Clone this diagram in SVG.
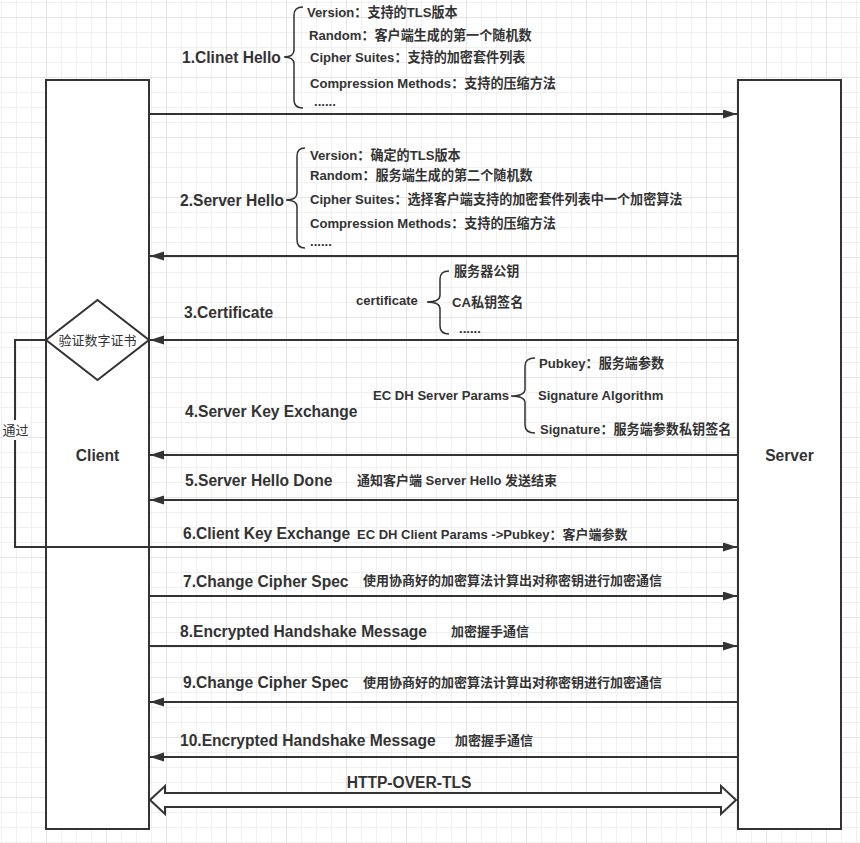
<svg xmlns="http://www.w3.org/2000/svg" width="860" height="843" viewBox="0 0 860 843">
<defs>
<pattern id="grid" x="46" y="17" width="60" height="60" patternUnits="userSpaceOnUse">
<rect x="15" y="0" width="1" height="60" fill="#f0f0f0"/>
<rect x="30" y="0" width="1" height="60" fill="#f0f0f0"/>
<rect x="45" y="0" width="1" height="60" fill="#f0f0f0"/>
<rect x="0" y="15" width="60" height="1" fill="#f0f0f0"/>
<rect x="0" y="30" width="60" height="1" fill="#f0f0f0"/>
<rect x="0" y="45" width="60" height="1" fill="#f0f0f0"/>
<rect x="0" y="0" width="1" height="60" fill="#e4e4e4"/>
<rect x="0" y="0" width="60" height="1" fill="#e4e4e4"/>
</pattern>
<marker id="ah" markerUnits="userSpaceOnUse" markerWidth="15" markerHeight="10" refX="14" refY="4.5" orient="auto">
<path d="M0,0 L14,4.5 L0,9 z" fill="#333"/>
</marker>
<style>
text{font-family:"Liberation Sans","Noto Sans CJK SC",sans-serif;fill:#333;dominant-baseline:central}
.step{font-size:15.6px;font-weight:bold}
.sub{font-size:13.1px;font-weight:bold}
.desc{font-size:13px;font-weight:bold}
.plain{font-size:13px;font-weight:normal}
.box{fill:#fff;stroke:#333;stroke-width:2}
.ln{fill:none;stroke:#333;stroke-width:2}
.arr{fill:none;stroke:#333;stroke-width:2;marker-end:url(#ah)}
.br{fill:none;stroke:#333;stroke-width:1.5}
</style>
</defs>
<rect width="860" height="843" fill="#fff"/>
<rect width="860" height="843" fill="url(#grid)"/>

<g id="client">
<rect class="box" x="46" y="80" width="103" height="749"/>
<text class="step" x="97.5" y="455" text-anchor="middle">Client</text>
</g>
<g id="server">
<rect class="box" x="738" y="80" width="103" height="749"/>
<text class="step" x="789.5" y="455" text-anchor="middle">Server</text>
</g>
<g id="verify">
<polygon class="box" points="97.5,300 149,340 97.5,380 46,340"/>
<text class="plain" x="97.5" y="340" text-anchor="middle">验证数字证书</text>
</g>

<g id="connectors">
<line class="arr" x1="149" y1="114" x2="737" y2="114"/>
<line class="arr" x1="738" y1="256" x2="150" y2="256"/>
<line class="arr" x1="738" y1="340" x2="150" y2="340"/>
<line class="arr" x1="738" y1="455" x2="150" y2="455"/>
<line class="arr" x1="738" y1="500" x2="150" y2="500"/>
<polyline class="ln" points="46,340 15,340 15,547"/>
<line class="arr" x1="14" y1="547" x2="737" y2="547"/>
<line class="arr" x1="149" y1="596" x2="737" y2="596"/>
<line class="arr" x1="149" y1="646" x2="737" y2="646"/>
<line class="arr" x1="738" y1="702" x2="150" y2="702"/>
<line class="arr" x1="738" y1="757" x2="150" y2="757"/>
<path class="box" d="M150,800 L165,786 L165,793 L721,793 L721,786 L736,800 L721,814 L721,807 L165,807 L165,814 Z"/>
<rect x="3" y="420" width="25" height="20" fill="#fff"/>
<text class="plain" x="15.5" y="430" text-anchor="middle">通过</text>
</g>

<g id="msg1">
<text class="step" x="182" y="57">1.Clinet Hello</text>
<path class="br" d="M303,7 Q294,7 294,15 L294,50 Q294,57 284,57 Q294,57 294,64 L294,100 Q294,108 303,108"/>
<text class="sub" x="307" y="12">Version：支持的TLS版本</text>
<text class="sub" x="309" y="35">Random：客户端生成的第一个随机数</text>
<text class="sub" x="310" y="57">Cipher Suites：支持的加密套件列表</text>
<text class="sub" x="310" y="83">Compression Methods：支持的压缩方法</text>
<text class="sub" x="314" y="101">......</text>
</g>

<g id="msg2">
<text class="step" x="180" y="200">2.Server Hello</text>
<path class="br" d="M305,148 Q297,148 297,156 L297,193 Q297,200 286,200 Q297,200 297,207 L297,240 Q297,248 305,248"/>
<text class="sub" x="310" y="155">Version：确定的TLS版本</text>
<text class="sub" x="310" y="175">Random：服务端生成的第二个随机数</text>
<text class="sub" x="310" y="199">Cipher Suites：选择客户端支持的加密套件列表中一个加密算法</text>
<text class="sub" x="310" y="223">Compression Methods：支持的压缩方法</text>
<text class="sub" x="310" y="241">......</text>
</g>

<g id="msg3">
<text class="step" x="184" y="312">3.Certificate</text>
<text class="sub" x="356" y="300">certificate</text>
<path class="br" d="M449,271 Q440,271 440,279 L440,295 Q440,302 427,302 Q440,302 440,309 L440,326 Q440,334 449,334"/>
<text class="sub" x="454" y="271">服务器公钥</text>
<text class="sub" x="452" y="302">CA私钥签名</text>
<text class="sub" x="459" y="328">......</text>
</g>

<g id="msg4">
<text class="step" x="185" y="411">4.Server Key Exchange</text>
<text class="sub" x="373" y="395">EC DH Server Params</text>
<path class="br" d="M535,358 Q525,358 525,366 L525,389 Q525,396 511,396 Q525,396 525,403 L525,425 Q525,433 535,433"/>
<text class="sub" x="539" y="363">Pubkey：服务端参数</text>
<text class="sub" x="538" y="395">Signature Algorithm</text>
<text class="sub" x="540" y="429">Signature：服务端参数私钥签名</text>
</g>

<g id="msg5">
<text class="step" x="185" y="480">5.Server Hello Done</text>
<text class="desc" x="357" y="480">通知客户端 Server Hello 发送结束</text>
</g>
<g id="msg6">
<text class="step" x="183" y="533">6.Client Key Exchange</text>
<text class="desc" x="357" y="534">EC DH Client Params -&gt;Pubkey：客户端参数</text>
</g>
<g id="msg7">
<text class="step" x="183" y="581">7.Change Cipher Spec</text>
<text class="desc" x="363" y="580">使用协商好的加密算法计算出对称密钥进行加密通信</text>
</g>
<g id="msg8">
<text class="step" x="180" y="631">8.Encrypted Handshake Message</text>
<text class="desc" x="451" y="631">加密握手通信</text>
</g>
<g id="msg9">
<text class="step" x="183" y="682">9.Change Cipher Spec</text>
<text class="desc" x="363" y="682">使用协商好的加密算法计算出对称密钥进行加密通信</text>
</g>
<g id="msg10">
<text class="step" x="180" y="740">10.Encrypted Handshake Message</text>
<text class="desc" x="455" y="740">加密握手通信</text>
</g>
<g id="https">
<text class="step" x="409" y="782" text-anchor="middle">HTTP-OVER-TLS</text>
</g>
</svg>
